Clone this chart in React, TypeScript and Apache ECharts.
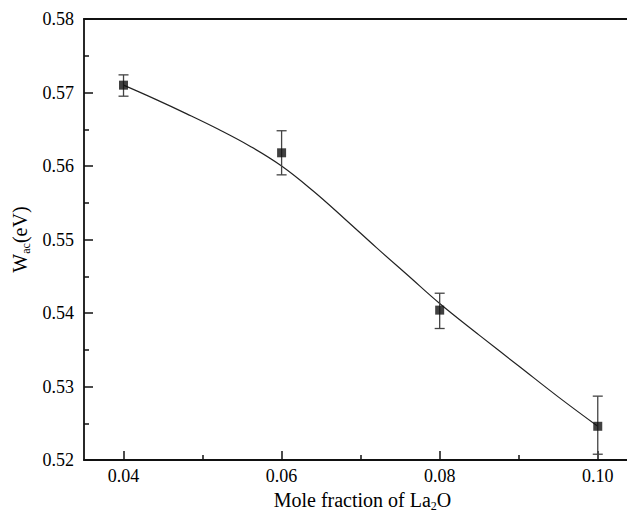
import React, { useEffect, useRef } from "react";
import * as echarts from "echarts";

const xValues = [0.04, 0.06, 0.08, 0.10];
const wValues = [0.5710, 0.5618, 0.5404, 0.5246];
const errLow = [0.5695, 0.5588, 0.5379, 0.5208];
const errHigh = [0.5724, 0.5648, 0.5427, 0.5287];

const fitX = [0.040, 0.044, 0.048, 0.052, 0.056, 0.060, 0.064, 0.068, 0.072, 0.076, 0.080, 0.085, 0.090, 0.095, 0.100];
const fitY = [0.5710, 0.5691, 0.5671, 0.5650, 0.5627, 0.5600, 0.5566, 0.5528, 0.5489, 0.5451, 0.5413, 0.5370, 0.5328, 0.5286, 0.5246];

const xMajorTicks = [0.04, 0.06, 0.08, 0.10];
const xMinorTicks = [0.05, 0.07, 0.09];

const FONT = "Liberation Serif";

export default function App() {
  const ref = useRef<HTMLDivElement>(null);
  useEffect(() => {
    document.body.style.margin = "0";
    const chart = echarts.init(ref.current!, null, { renderer: "svg" });
    const rich = {
      m: { fontSize: 20, fontFamily: FONT, color: "#000", lineHeight: 24 },
      s: { fontSize: 12, fontFamily: FONT, color: "#000", lineHeight: 12, verticalAlign: "bottom" },
    };
    const axisLineStyle = { color: "#111", width: 1.8 };
    const xMin = 0.035;
    const xMax = 0.1037;
    chart.setOption({
      animation: false,
      backgroundColor: "#fff",
      grid: {
        left: 84,
        top: 19,
        right: 0,
        bottom: 52,
        show: false,
        containLabel: false,
      },
      xAxis: [
        {
          type: "value",
          min: xMin,
          max: xMax,
          position: "bottom",
          splitLine: { show: false },
          axisLine: { show: true, lineStyle: axisLineStyle },
          axisTick: { show: true, inside: true, length: 9, lineStyle: { color: "#111", width: 1.5 }, customValues: xMajorTicks },
          axisLabel: {
            customValues: xMajorTicks,
            formatter: (v: number) => v.toFixed(2),
            fontFamily: FONT,
            fontSize: 18,
            color: "#000",
            margin: 7,
          },
          name: "{m|Mole fraction of La}{s|2}{m|O}",
          nameLocation: "middle",
          nameGap: 22,
          nameTextStyle: { rich, verticalAlign: "top", padding: [0, 0, 0, 14] },
        },
        {
          type: "value",
          min: xMin,
          max: xMax,
          position: "bottom",
          splitLine: { show: false },
          axisLine: { show: false },
          axisTick: { show: true, inside: true, length: 5, lineStyle: { color: "#111", width: 1.5 }, customValues: xMinorTicks },
          axisLabel: { show: false },
        },
        {
          type: "value",
          min: xMin,
          max: xMax,
          position: "top",
          splitLine: { show: false },
          axisLine: { show: true, lineStyle: axisLineStyle },
          axisTick: { show: false },
          axisLabel: { show: false },
        },
      ],
      yAxis: {
        type: "value",
        min: 0.52,
        max: 0.58,
        interval: 0.01,
        splitLine: { show: false },
        axisLine: { show: true, lineStyle: axisLineStyle },
        axisTick: { show: true, inside: true, length: 9, lineStyle: { color: "#111", width: 1.5 } },
        minorTick: { show: true, splitNumber: 2, length: 5, lineStyle: { color: "#111", width: 1.5 } },
        minorSplitLine: { show: false },
        axisLabel: {
          formatter: (v: number) => v.toFixed(2),
          fontFamily: FONT,
          fontSize: 18,
          color: "#000",
          margin: 10,
        },
        name: "{m|W}{s|ac}{m|(eV)}",
        nameLocation: "middle",
        nameRotate: 90,
        nameGap: 49,
        nameTextStyle: { rich },
      },
      series: [
        {
          type: "line",
          data: fitX.map((x, i) => [x, fitY[i]]),
          smooth: 0.4,
          showSymbol: false,
          symbol: "none",
          lineStyle: { color: "#222", width: 1.2 },
          z: 2,
        },
        {
          type: "custom",
          data: xValues.map((x, i) => [x, errLow[i], errHigh[i]]),
          renderItem: (params: any, api: any) => {
            const x = api.value(0);
            const lo = api.coord([x, api.value(1)]);
            const hi = api.coord([x, api.value(2)]);
            const half = 5;
            const style = { stroke: "#444", lineWidth: 1.3 };
            return {
              type: "group",
              children: [
                { type: "line", shape: { x1: lo[0], y1: lo[1], x2: hi[0], y2: hi[1] }, style },
                { type: "line", shape: { x1: hi[0] - half, y1: hi[1], x2: hi[0] + half, y2: hi[1] }, style },
                { type: "line", shape: { x1: lo[0] - half, y1: lo[1], x2: lo[0] + half, y2: lo[1] }, style },
              ],
            };
          },
          z: 3,
        },
        {
          type: "scatter",
          data: xValues.map((x, i) => [x, wValues[i]]),
          symbol: "rect",
          symbolSize: 9,
          itemStyle: { color: "#111" },
          z: 4,
        },
      ],
    });
    return () => chart.dispose();
  }, []);
  return <div ref={ref} style={{ width: 627, height: 517 }} />;
}
